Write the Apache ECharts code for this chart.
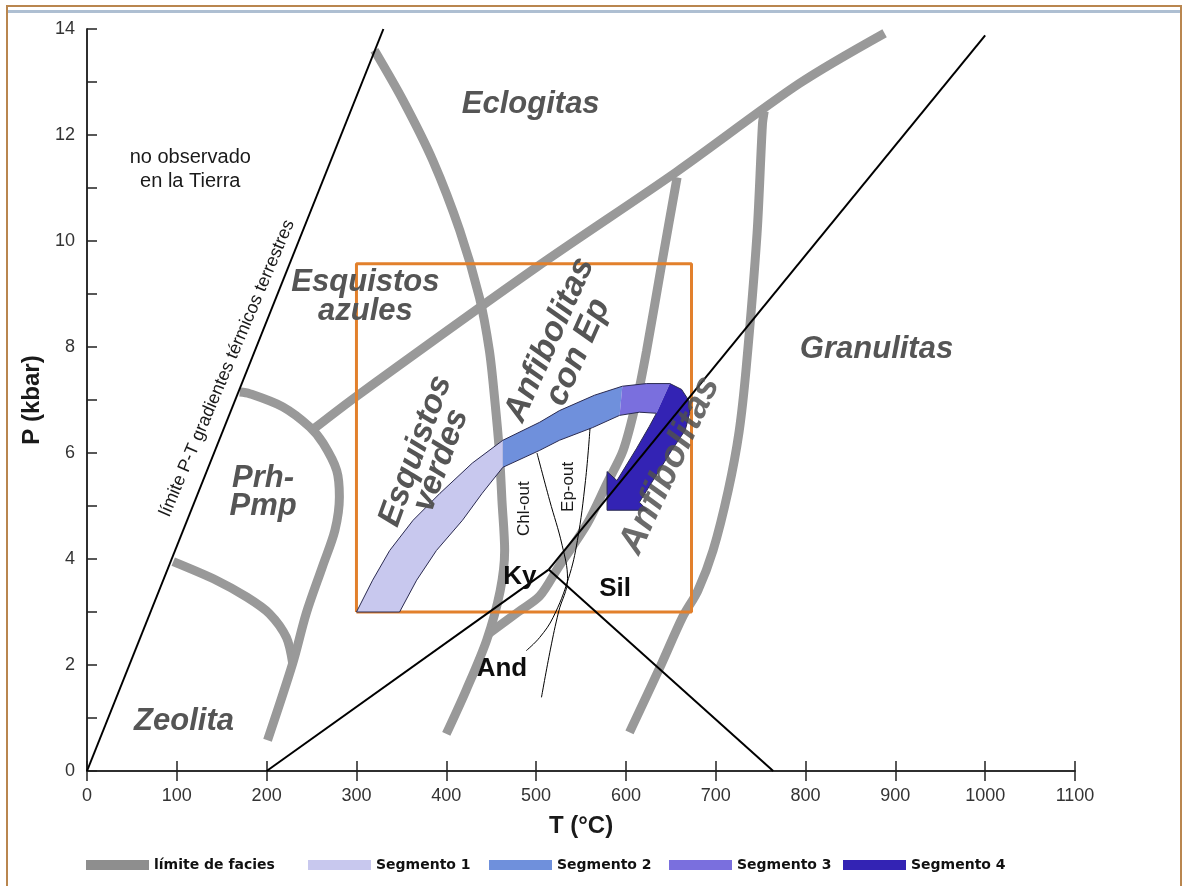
<!DOCTYPE html>
<html>
<head>
<meta charset="utf-8">
<script src="https://cdn.jsdelivr.net/npm/echarts@6/dist/echarts.min.js"></script>
<style>
  html, body { margin: 0; padding: 0; background: #fff; }
  #chart { width: 1184px; height: 886px; }
</style>
</head>
<body>
<div id="chart"></div>
<script>
// ---- Data: temperature (°C) and pressure (kbar) pairs ----

// Black reference lines
const gradientLimit = [[0, 0], [330, 14]];
const andKyLine = [[200, 0], [514, 3.8]];
const kySilLine = [[514, 3.8], [1000, 13.88]];
const andSilLine = [[514, 3.8], [764, 0]];

// Facies boundaries (grey)
const zeoPrhBoundary = [[96, 3.95], [144, 3.6], [178, 3.28], [203, 2.97], [222, 2.52], [229, 2.03]];
const prhPmpBoundary = [[201, 0.58], [229, 2.03], [244, 2.97], [262, 3.85], [276, 4.54], [281, 5.17],
  [278, 5.67], [263, 6.18], [248, 6.49], [218, 6.87], [181, 7.12], [170, 7.15]];
const blueschistBoundary = [[252, 6.45], [300, 7.07], [500, 9.5], [656, 11.3], [793, 12.97], [888, 13.92]];
const eclogiteBoundary = [[320, 13.6], [352, 12.65], [385, 11.52], [415, 10.2], [437, 8.93], [448, 7.93],
  [454, 7.0], [459, 6.05], [462, 5.1], [465, 4.16], [460, 3.4], [445, 2.47], [422, 1.52], [400, 0.7]];
const epAmphBoundary = [[448, 2.6], [480, 3.0], [504, 3.3], [525, 3.85], [557, 4.67], [579, 5.43],
  [597, 6.05], [612, 7.0], [623, 7.93], [640, 9.58], [657, 11.2]];
const granuliteBoundary = [[754, 12.45], [752, 12.2], [746, 10.14], [734, 7.62], [726, 6.4], [714, 5.3],
  [697, 4.16], [680, 3.4], [663, 2.9], [638, 1.96], [604, 0.73]];

// Reaction lines
const chlOut = [[501, 6.0], [515, 5.11], [529, 4.26], [535, 3.63], [525, 3.0], [516, 2.3], [506, 1.39]];
const epOut = [[560, 6.46], [555, 5.48], [546, 4.35], [536, 3.63], [519, 2.9], [504, 2.52], [489, 2.27]];

// Study window
const studyWindow = [[300, 3.0], [673, 3.0], [673, 9.57], [300, 9.57], [300, 3.0]];

// P-T path, split in four segments (outer / inner edges)
const seg1Outer = [[300, 3.0], [318, 3.6], [337, 4.16], [363, 4.73], [393, 5.24], [429, 5.81], [463, 6.24]];
const seg1Inner = [[348, 3.0], [367, 3.6], [389, 4.16], [418, 4.73], [440, 5.24], [463, 5.73]];
const seg2Outer = [[463, 6.24], [504, 6.58], [526, 6.8], [565, 7.09], [596, 7.26]];
const seg2Inner = [[463, 5.73], [504, 6.05], [526, 6.24], [563, 6.48], [593, 6.71]];
const seg3Outer = [[596, 7.26], [623, 7.31], [649, 7.31]];
const seg3Inner = [[593, 6.71], [615, 6.77], [634, 6.75]];
const seg4Arrow = [[649, 7.31], [662, 7.2], [670, 6.99], [671, 6.75], [666, 6.43], [651, 6.05], [615, 5.07],
  [624, 4.92], [579, 4.92], [579, 5.65], [590, 5.48], [612, 6.09], [626, 6.5], [634, 6.75]];

// Text annotations
const regionNames = ['Eclogitas', 'Esquistos\nazules', 'Granulitas', 'Prh-\nPmp', 'Zeolita',
  'Esquistos\nverdes', 'Anfibolitas\ncon Ep', 'Anfibolitas'];
const regionAnchors = [[494, 12.58], [310, 8.94], [879, 7.95], [196, 5.26], [108, 0.93],
  [380, 5.95], [531, 8.02], [649, 5.77]];
const noteNames = ['no observado\nen la Tierra', 'límite P-T gradientes térmicos terrestres', 'Chl-out', 'Ep-out'];
const noteAnchors = [[115, 11.35], [156, 7.6], [487, 4.95], [536, 5.36]];
const phaseNames = ['Ky', 'Sil', 'And'];
const phaseAnchors = [[482, 3.67], [588, 3.43], [462, 1.92]];

// ---- Styling ----
const FACIES_GREY = '#999999';
const SEG_COLORS = ['#c8c8ee', '#6f90dc', '#7a6fde', '#3323b4'];
const OUTLINE = '#2a2a50';
const regionStyle = [
  { size: 31, tilt: 0, lh: 29 }, { size: 31, tilt: 0, lh: 29 }, { size: 31, tilt: 0, lh: 29 },
  { size: 31, tilt: 0, lh: 28 }, { size: 31, tilt: 0, lh: 29 },
  { size: 33, tilt: 70, lh: 27 }, { size: 34, tilt: 66, lh: 31 }, { size: 37, tilt: 65, lh: 36 }
];
const noteStyle = [
  { size: 20, tilt: 0, lh: 24 }, { size: 18, tilt: 67, lh: 20 }, { size: 17, tilt: 90, lh: 18 }, { size: 17, tilt: 90, lh: 18 }
];

function faciesLine(data) {
  return {
    type: 'line', name: 'límite de facies', data, symbol: 'none', smooth: 0.3, silent: true, z: 2,
    lineStyle: { color: FACIES_GREY, width: 9, cap: 'butt' },
    itemStyle: { color: '#8e8e8e' }
  };
}

function blackLine(data, width, smooth) {
  return {
    type: 'line', data, symbol: 'none', silent: true, z: 6, smooth: smooth || 0,
    lineStyle: { color: '#000', width: width }
  };
}

function bandSegment(name, outer, inner, color, withBase) {
  return {
    type: 'custom', name, coordinateSystem: 'cartesian2d', silent: true, z: 5,
    itemStyle: { color },
    data: [outer[0]],
    renderItem: function (params, api) {
      const o = outer.map(p => api.coord(p));
      const i = inner.map(p => api.coord(p));
      const poly = o.concat(i.slice().reverse());
      const children = [{ type: 'polygon', shape: { points: poly }, style: { fill: color } }];
      const edge = { stroke: OUTLINE, lineWidth: 1, fill: null };
      if (withBase) {
        children.push({ type: 'polyline', shape: { points: i.slice().reverse().concat(o) }, style: edge });
      } else {
        children.push({ type: 'polyline', shape: { points: o }, style: edge });
        if (i.length) children.push({ type: 'polyline', shape: { points: i }, style: edge });
      }
      return { type: 'group', children };
    }
  };
}

function textSeries(names, anchors, styler, z) {
  return {
    type: 'custom', coordinateSystem: 'cartesian2d', silent: true, z: z,
    data: anchors.map((a, k) => [a[0], a[1], k]),
    renderItem: function (params, api) {
      const k = params.dataIndex;
      const p = api.coord(anchors[k]);
      const s = styler(k);
      return {
        type: 'text', x: p[0], y: p[1], rotation: (s.tilt || 0) * Math.PI / 180,
        style: {
          text: names[k], fill: s.fill, fontSize: s.size, fontFamily: 'Liberation Sans, Arial, sans-serif',
          fontWeight: s.weight || 'normal', fontStyle: s.italic ? 'italic' : 'normal',
          align: 'center', verticalAlign: 'middle', lineHeight: s.lh, opacity: s.opacity == null ? 1 : s.opacity
        }
      };
    }
  };
}

const legendText = { fontFamily: 'DejaVu Sans, sans-serif', fontWeight: 'bold', fontSize: 14, color: '#111' };
function legendAt(name, left) {
  return {
    data: [name], left: left, top: 858, icon: 'rect', itemWidth: 63, itemHeight: 10,
    selectedMode: false, padding: 0, textStyle: legendText
  };
}

const axisFont = { fontFamily: 'Liberation Sans, Arial, sans-serif', fontSize: 18, color: '#333' };
const frameLine = { lineStyle: { color: '#222', width: 1.5 } };

const option = {
  animation: false,
  backgroundColor: '#ffffff',
  grid: { left: 87, right: 109, top: 29, bottom: 115, containLabel: false, outerBoundsMode: 'none' },
  xAxis: [
    {
      type: 'value', min: 0, max: 1100, interval: 100, position: 'bottom',
      axisLine: frameLine,
      axisTick: { inside: true, length: 10, lineStyle: { color: '#222', width: 1.5 } },
      axisLabel: Object.assign({ margin: 16, formatter: v => String(v) }, axisFont),
      splitLine: { show: false },
      name: 'T (°C)', nameLocation: 'middle', nameGap: 43,
      nameTextStyle: { fontFamily: 'Liberation Sans, Arial, sans-serif', fontSize: 24, fontWeight: 'bold', color: '#1a1a1a' }
    },
    {
      type: 'value', min: 0, max: 1100, interval: 100, position: 'top',
      axisLine: frameLine,
      axisTick: { inside: true, length: 10, lineStyle: { color: '#222', width: 1.5 } },
      axisLabel: { show: false }, splitLine: { show: false }
    }
  ],
  yAxis: [
    {
      type: 'value', min: 0, max: 14, interval: 1, position: 'left',
      axisLine: frameLine,
      axisTick: { inside: true, length: 10, lineStyle: { color: '#222', width: 1.5 } },
      axisLabel: Object.assign({ margin: 12, formatter: v => (v % 2 === 0 ? String(v) : '') }, axisFont),
      splitLine: { show: false },
      name: 'P (kbar)', nameLocation: 'middle', nameGap: 38, nameRotate: 90,
      nameTextStyle: { fontFamily: 'Liberation Sans, Arial, sans-serif', fontSize: 24, fontWeight: 'bold', color: '#1a1a1a' }
    },
    {
      type: 'value', min: 0, max: 14, interval: 1, position: 'right',
      axisLine: frameLine, axisTick: { show: false }, axisLabel: { show: false }, splitLine: { show: false }
    }
  ],
  legend: [
    legendAt('límite de facies', 86),
    legendAt('Segmento 1', 308),
    legendAt('Segmento 2', 489),
    legendAt('Segmento 3', 669),
    legendAt('Segmento 4', 843)
  ],
  graphic: [
    { type: 'rect', z: 100, shape: { x: 7, y: 6, width: 1174, height: 900 }, style: { fill: null, stroke: '#b9864f', lineWidth: 2 } },
    { type: 'line', z: 100, shape: { x1: 8, y1: 11.5, x2: 1180, y2: 11.5 }, style: { stroke: '#aebfd2', lineWidth: 3 } }
  ],
  series: [
    faciesLine(zeoPrhBoundary),
    faciesLine(prhPmpBoundary),
    faciesLine(blueschistBoundary),
    faciesLine(eclogiteBoundary),
    faciesLine(epAmphBoundary),
    faciesLine(granuliteBoundary),
    {
      type: 'line', data: studyWindow, symbol: 'none', silent: true, z: 3,
      lineStyle: { color: '#e2802c', width: 3 }
    },
    bandSegment('Segmento 1', seg1Outer, seg1Inner, SEG_COLORS[0], true),
    bandSegment('Segmento 2', seg2Outer, seg2Inner, SEG_COLORS[1], false),
    bandSegment('Segmento 3', seg3Outer, seg3Inner, SEG_COLORS[2], false),
    bandSegment('Segmento 4', seg4Arrow, [], SEG_COLORS[3], false),
    blackLine(gradientLimit, 2),
    blackLine(andKyLine, 2),
    blackLine(kySilLine, 2),
    blackLine(andSilLine, 2),
    blackLine(chlOut, 1, 0.4),
    blackLine(epOut, 1, 0.4),
    textSeries(regionNames, regionAnchors, k => Object.assign({
      fill: k === 7 ? 'rgba(80,80,80,0.85)' : '#555', weight: 'bold', italic: true
    }, regionStyle[k]), 8),
    textSeries(noteNames, noteAnchors, k => Object.assign({ fill: '#1a1a1a' }, noteStyle[k]), 8),
    textSeries(phaseNames, phaseAnchors, k => ({ fill: '#0d0d0d', size: 26, weight: 'bold', lh: 28 }), 8)
  ]
};

const chart = echarts.init(document.getElementById('chart'), null, { renderer: 'canvas' });
chart.setOption(option);
</script>
</body>
</html>
